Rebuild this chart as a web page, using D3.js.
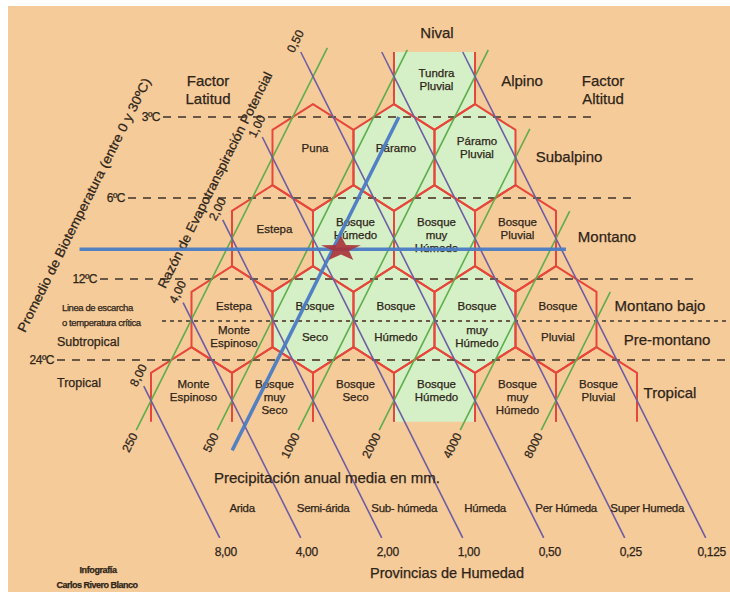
<!DOCTYPE html>
<html><head><meta charset="utf-8">
<script src="https://cdn.jsdelivr.net/npm/d3@7"></script>
<style>
html,body{margin:0;padding:0;background:#fff;}
svg{display:block;font-family:"Liberation Sans",Arial,sans-serif;}
text{stroke:#2D2418;stroke-width:0.25px;}
</style>
</head><body>
<svg id="chart" width="730" height="592"></svg>
<script>
// ---------------- DATA ----------------
const PET_FACTOR = 58.93;                       // PET = 58.93 * biotemperature
const tempBelts = [3, 6, 12, 24];
const tempBeltLabels = ["3ºC", "6ºC", "12ºC", "24ºC"];
const frostTemp = 17.2;
const precipLines = [250, 500, 1000, 2000, 4000, 8000];
const precipLabels = ["250", "500", "1000", "2000", "4000", "8000"];
const precipTopTemp = [1.66, 1.69, 1.69, 3.32, 6.71, 13.4];
const precipBottomTemp = 43.7;
const ratioLines = [8, 4, 2, 1, 0.5, 0.25, 0.125];
const ratioLabels = ["8,00", "4,00", "2,00", "1,00", "0,50", "0,25", "0,125"];
const ratioTopTemp = [30, 14.7, 7.24, 3.56, 1.72, 1.72, 1.72];
const ratioTopLabeled = [true, true, true, true, true, false, false];
const ratioBottomTemp = 110;
const humidityProvinces = ["Arida", "Semi-árida", "Sub- húmeda", "Húmeda", "Per Húmeda", "Super Humeda"];
const provinceTemp = 85;
const hexRowTemps = [1.5, 3, 6, 12, 24].map(t => t * Math.SQRT2);
const hexFirstPrecip = 250;
const hexRows = [
  [null, "Tundra|Pluvial"],
  ["Puna", "Páramo", "Páramo|Pluvial"],
  ["Estepa", "Bosque|Húmedo", "Bosque|muy|Húmedo", "Bosque|Pluvial"],
  ["Estepa|Monte|Espinoso", "Bosque|Seco", "Bosque|Húmedo", "Bosque|muy|Húmedo", "Bosque|Pluvial"],
  ["Monte|Espinoso", "Bosque|muy|Seco", "Bosque|Seco", "Bosque|Húmedo", "Bosque|muy|Húmedo", "Bosque|Pluvial"]
];
const hexHumid = [
  [0, 1], [0, 1, 1], [0, 1, 1, 0], [0, 1, 1, 1, 0], [0, 0, 0, 1, 0, 0]
];
const hexClipTemps = [1.72, 40.7];
const altitudeBelts = ["Alpino", "Subalpino", "Montano", "Montano bajo", "Pre-montano", "Tropical"];
const altitudeTemps = [2.19, 4.22, 8.31, 15.1, 20.2, 31.6];
const latitudeBelts = ["Subtropical", "Tropical"];
const latitudeTemps = [20.6, 29.2];
const sitePrecip = 620, siteTemp = 9.3;
const siteTempRange = [3.0, 52];
const sitePrecipRange = [71, 4560];
const starPrecip = 665;

// ---------------- LAYOUT ----------------
const L = {
  bg: [8, 6, 722, 586],
  tempLineX: [[163, 592], [128, 633], [100, 700], [57, 730]],
  frostX: [162, 730],
  altitudeX: [522, 569, 607, 660, 667, 670],
  latitudeX: 57
};
const colors = {
  bg: "#F6CB9A", humid: "#D5EFC6", hex: "#E6473A", green: "#5DAE4B",
  purple: "#6C5CA6", blue: "#4A7CC4", star: "#A8323A", dash: "#6A5846", text: "#2D2418"
};

// ---------------- SCALES ----------------
const yT = d3.scaleLog().base(2).domain([3, 24]).range([117, 360]);        // biotemperature
const xQ = d3.scaleLog().base(2).domain([250 / 8, 500 / 4]).range([151, 232]); // precip / PET ratio
const pt = (P, R) => [xQ(P / R), yT(P * R / PET_FACTOR)];
const rowStep = yT(6) - yT(3);
const halfW = (xQ(4) - xQ(1)) / 2;
const sideHalf = rowStep * 0.34, apex = rowStep * 0.66;
const angle = Math.atan2(-rowStep, halfW) * 180 / Math.PI;
const dirUp = [halfW, -rowStep]; const dn = Math.hypot(...dirUp);
const uG = [dirUp[0] / dn, dirUp[1] / dn];       // green line upward direction
const uP = [-uG[0], uG[1]];                        // purple line upward direction

const svg = d3.select("#chart");
svg.append("rect").attr("x", L.bg[0]).attr("y", L.bg[1]).attr("width", L.bg[2]).attr("height", L.bg[3]).attr("fill", colors.bg);

// clip for hexagons
svg.append("clipPath").attr("id", "hexclip").append("rect")
  .attr("x", 0).attr("width", 730)
  .attr("y", yT(hexClipTemps[0])).attr("height", yT(hexClipTemps[1]) - yT(hexClipTemps[0]));

const hexes = [];
hexRows.forEach((row, r) => {
  const T = hexRowTemps[r];
  row.forEach((name, i) => {
    if (name === null) return;
    const P = hexFirstPrecip * Math.pow(2, i) * Math.SQRT2;
    const R = T * PET_FACTOR / P;
    const [cx, cy] = pt(P, R);
    hexes.push({ r, i, name, cx, cy, humid: hexHumid[r][i] });
  });
});
const hexPath = d => `M${d.cx},${d.cy - apex}L${d.cx + halfW},${d.cy - sideHalf}L${d.cx + halfW},${d.cy + sideHalf}L${d.cx},${d.cy + apex}L${d.cx - halfW},${d.cy + sideHalf}L${d.cx - halfW},${d.cy - sideHalf}Z`;

const gHex = svg.append("g").attr("clip-path", "url(#hexclip)");
gHex.selectAll("path.fill").data(hexes.filter(d => d.humid)).join("path")
  .attr("d", hexPath).attr("fill", colors.humid).attr("stroke", colors.humid).attr("stroke-width", 0.8);
gHex.selectAll("path.edge").data(hexes).join("path")
  .attr("d", hexPath).attr("fill", "none").attr("stroke", colors.hex).attr("stroke-width", 2).attr("stroke-linejoin", "round");

// temperature dashed lines
const gT = svg.append("g");
tempBelts.forEach((t, k) => {
  const y = yT(t);
  gT.append("line").attr("x1", L.tempLineX[k][0]).attr("x2", L.tempLineX[k][1]).attr("y1", y).attr("y2", y)
    .attr("stroke", colors.dash).attr("stroke-width", 2).attr("stroke-dasharray", "8,7");
  gT.append("text").attr("x", L.tempLineX[k][0] - 3).attr("y", y).attr("text-anchor", "end")
    .attr("dominant-baseline", "central").attr("font-size", 12).attr("fill", colors.text)
    .attr("letter-spacing", -0.5).text(tempBeltLabels[k]);
});
gT.append("line").attr("x1", L.frostX[0]).attr("x2", L.frostX[1]).attr("y1", yT(frostTemp)).attr("y2", yT(frostTemp))
  .attr("stroke", colors.dash).attr("stroke-width", 2).attr("stroke-dasharray", "4,4");
gT.append("text").attr("x", 62).attr("y", yT(frostTemp) - 14).attr("dominant-baseline", "central")
  .attr("font-size", 9.5).attr("fill", colors.text).attr("letter-spacing", -0.4).text("Linea de escarcha");
gT.append("text").attr("x", 62).attr("y", yT(frostTemp) + 1).attr("dominant-baseline", "central")
  .attr("font-size", 9.5).attr("fill", colors.text).attr("letter-spacing", -0.4).text("o temperatura crítica");

// precipitation (green) lines
const gL = svg.append("g");
precipLines.forEach((P, k) => {
  const a = pt(P, precipTopTemp[k] * PET_FACTOR / P);
  const b = pt(P, precipBottomTemp * PET_FACTOR / P);
  gL.append("line").attr("x1", a[0]).attr("y1", a[1]).attr("x2", b[0]).attr("y2", b[1])
    .attr("stroke", colors.green).attr("stroke-width", 1.6);
  const lx = b[0] - uG[0] * 4, ly = b[1] - uG[1] * 4;
  gL.append("text").attr("transform", `translate(${lx},${ly}) rotate(${angle})`)
    .attr("text-anchor", "end").attr("dominant-baseline", "central")
    .attr("font-size", 12).attr("fill", colors.text).text(precipLabels[k]);
});
// ratio (purple) lines
ratioLines.forEach((R, k) => {
  const a = pt(ratioTopTemp[k] * PET_FACTOR / R, R);
  const b = pt(ratioBottomTemp * PET_FACTOR / R, R);
  gL.append("line").attr("x1", a[0]).attr("y1", a[1]).attr("x2", b[0]).attr("y2", b[1])
    .attr("stroke", colors.purple).attr("stroke-width", 1.6);
  if (ratioTopLabeled[k]) {
    gL.append("text").attr("transform", `translate(${a[0] + uP[0] * 12},${a[1] + uP[1] * 12}) rotate(${angle})`)
      .attr("text-anchor", "middle").attr("dominant-baseline", "central")
      .attr("font-size", 12).attr("fill", colors.text).text(ratioLabels[k]);
  }
  gL.append("text").attr("x", b[0] + 6).attr("y", b[1] + 14).attr("text-anchor", "middle")
    .attr("dominant-baseline", "central").attr("font-size", 12).attr("fill", colors.text)
    .attr("letter-spacing", -0.3).text(ratioLabels[k]);
});
// humidity provinces between ratio lines
humidityProvinces.forEach((name, k) => {
  const R1 = ratioLines[k], R2 = ratioLines[k + 1];
  const x1 = pt(provinceTemp * PET_FACTOR / R1, R1)[0];
  const x2 = pt(provinceTemp * PET_FACTOR / R2, R2)[0];
  gL.append("text").attr("x", (x1 + x2) / 2 - 3).attr("y", yT(provinceTemp)).attr("text-anchor", "middle")
    .attr("dominant-baseline", "central").attr("font-size", 11.5).attr("fill", colors.text)
    .attr("letter-spacing", -0.3).text(name);
});

// hexagon labels
const gHL = svg.append("g").attr("font-size", 11.5).attr("fill", colors.text).attr("text-anchor", "middle");
hexes.forEach(d => {
  const lines = d.name.split("|");
  if (d.r === 3) {
    gHL.append("text").attr("x", d.cx + 2).attr("y", d.cy - 14).attr("dominant-baseline", "central").text(lines[0]);
    const rest = lines.slice(1);
    rest.forEach((t, j) => {
      gHL.append("text").attr("x", d.cx + 2).attr("y", d.cy + 17 + (j - (rest.length - 1) / 2) * 12.5)
        .attr("dominant-baseline", "central").text(t);
    });
  } else {
    let y0 = lines.length === 1 ? d.cy - 9.5 : d.cy - 16.5;
    if (d.r === 0) y0 = d.cy - 4;
    const lh = d.r === 1 ? 12.5 : 13;
    lines.forEach((t, j) => {
      gHL.append("text").attr("x", d.cx + 2).attr("y", y0 + j * lh).attr("dominant-baseline", "central").text(t);
    });
  }
});

// altitude & latitude labels
const gA = svg.append("g").attr("fill", colors.text).attr("font-size", 15);
altitudeBelts.forEach((name, k) => {
  gA.append("text").attr("x", L.altitudeX[k]).attr("y", yT(altitudeTemps[k])).attr("text-anchor", "middle")
    .attr("dominant-baseline", "central").text(name);
});
latitudeBelts.forEach((name, k) => {
  gA.append("text").attr("x", L.latitudeX).attr("y", yT(latitudeTemps[k])).attr("font-size", 12.5)
    .attr("dominant-baseline", "central").text(name);
});
gA.append("text").attr("x", 437).attr("y", 32).attr("text-anchor", "middle").attr("dominant-baseline", "central").text("Nival");
[["Factor", 80], ["Latitud", 98]].forEach(([t, y]) =>
  gA.append("text").attr("x", 208).attr("y", y).attr("text-anchor", "middle").attr("dominant-baseline", "central").text(t));
[["Factor", 80], ["Altitud", 98]].forEach(([t, y]) =>
  gA.append("text").attr("x", 603).attr("y", y).attr("text-anchor", "middle").attr("dominant-baseline", "central").text(t));
gA.append("text").attr("x", 327).attr("y", 477).attr("text-anchor", "middle").attr("dominant-baseline", "central")
  .text("Precipitación anual media en mm.");
gA.append("text").attr("x", 447).attr("y", 573).attr("text-anchor", "middle").attr("dominant-baseline", "central")
  .attr("font-size", 14.5).text("Provincias de Humedad");
gA.append("text").attr("transform", `translate(84,205) rotate(${angle})`).attr("text-anchor", "middle")
  .attr("dominant-baseline", "central").attr("font-size", 13).attr("textLength", 282).attr("lengthAdjust", "spacingAndGlyphs")
  .text("Promedio de Biotemperatura (entre 0 y 30ºC)");
gA.append("text").attr("transform", `translate(215,180) rotate(${angle})`).attr("text-anchor", "middle")
  .attr("dominant-baseline", "central").attr("font-size", 13).attr("textLength", 240).attr("lengthAdjust", "spacingAndGlyphs")
  .text("Razón de Evapotranspiración Potencial");
gA.append("text").attr("x", 98).attr("y", 570).attr("text-anchor", "middle").attr("dominant-baseline", "central")
  .attr("font-size", 9).attr("font-weight", "bold").attr("letter-spacing", -0.4).text("Infografía");
gA.append("text").attr("x", 97).attr("y", 585).attr("text-anchor", "middle").attr("dominant-baseline", "central")
  .attr("font-size", 9).attr("font-weight", "bold").attr("letter-spacing", -0.5).text("Carlos Rivero Blanco");

// site lines (blue) and star
const gS = svg.append("g");
const diag = siteTempRange.map(T => pt(sitePrecip, T * PET_FACTOR / sitePrecip));
gS.append("line").attr("x1", diag[0][0]).attr("y1", diag[0][1]).attr("x2", diag[1][0]).attr("y2", diag[1][1])
  .attr("stroke", colors.blue).attr("stroke-width", 3.5).attr("opacity", 0.95);
const hor = sitePrecipRange.map(P => pt(P, siteTemp * PET_FACTOR / P));
gS.append("line").attr("x1", hor[0][0]).attr("y1", hor[0][1]).attr("x2", hor[1][0]).attr("y2", hor[1][1])
  .attr("stroke", colors.blue).attr("stroke-width", 3.5).attr("opacity", 0.95);
const sc = pt(starPrecip, siteTemp * PET_FACTOR / starPrecip);
const starPts = d3.range(10).map(j => {
  const rr = j % 2 === 0 ? 21 : 8.5;
  const an = -Math.PI / 2 + j * Math.PI / 5;
  return [Math.cos(an) * rr, Math.sin(an) * rr * 0.63];
});
gS.append("path").attr("transform", `translate(${sc[0]},${sc[1]})`)
  .attr("d", "M" + starPts.map(p => p.join(",")).join("L") + "Z")
  .attr("fill", colors.star).attr("opacity", 0.9);
</script>
</body></html>
